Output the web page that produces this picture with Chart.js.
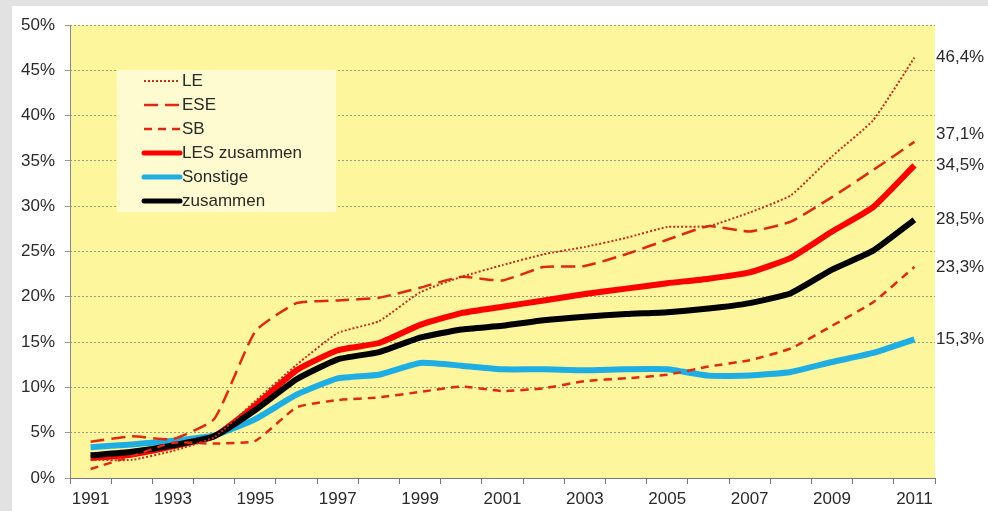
<!DOCTYPE html>
<html>
<head>
<meta charset="utf-8">
<script src="https://cdn.jsdelivr.net/npm/chart.js@4"></script>
<style>
  html, body { margin: 0; padding: 0; background: #e2e2e2; overflow: hidden; }
  #wrap { position: absolute; left: 12px; top: 6px; width: 976px; height: 505px; background: #fff; }
  canvas { position: absolute; left: 0; top: 0; }
</style>
</head>
<body>
<div id="wrap"></div>
<canvas id="chart" width="988" height="511"></canvas>
<script>
const years = ["1991","1992","1993","1994","1995","1996","1997","1998","1999","2000","2001","2002","2003","2004","2005","2006","2007","2008","2009","2010","2011"];
const le = [2.0, 2.0, 3.0, 4.5, 8.5, 12.5, 16.0, 17.3, 20.5, 22.2, 23.5, 24.7, 25.5, 26.5, 27.7, 27.8, 29.3, 31.2, 35.5, 39.5, 46.4];
const ese = [4.0, 4.6, 4.3, 6.5, 16.2, 19.3, 19.6, 19.9, 21.0, 22.2, 21.8, 23.3, 23.4, 24.7, 26.3, 27.8, 27.2, 28.3, 31.0, 34.0, 37.1];
const sb = [1.0, 2.4, 3.9, 3.8, 4.1, 7.8, 8.6, 8.9, 9.5, 10.1, 9.6, 9.9, 10.7, 11.0, 11.4, 12.3, 13.0, 14.3, 16.8, 19.4, 23.3];
const les = [2.2, 2.6, 3.5, 4.6, 8.0, 11.9, 14.1, 14.9, 16.9, 18.2, 18.9, 19.6, 20.3, 20.9, 21.5, 22.0, 22.7, 24.3, 27.2, 29.9, 34.5];
const sonstige = [3.4, 3.7, 4.1, 4.7, 6.5, 9.2, 11.0, 11.4, 12.7, 12.4, 12.0, 12.0, 11.9, 12.0, 12.0, 11.3, 11.3, 11.7, 12.8, 13.8, 15.3];
const zusammen = [2.5, 2.9, 3.6, 4.6, 7.5, 10.9, 13.1, 13.9, 15.5, 16.4, 16.8, 17.4, 17.8, 18.1, 18.3, 18.7, 19.3, 20.4, 23.0, 25.1, 28.5];

const fontFam = "'Liberation Sans', Arial, sans-serif";
const textCol = "#2a2a2a";

const bgPlugin = {
    id: "bg",
    beforeDraw(chart) {
        const { ctx, chartArea: a } = chart;
        ctx.save();
        ctx.fillStyle = "#fdf69c";
        ctx.fillRect(a.left, a.top, a.right - a.left, a.bottom - a.top);
        ctx.restore();
    },
    afterDraw(chart) {
        // solid y axis line (grid lines are dotted)
        const { ctx, chartArea: a } = chart;
        ctx.save();
        ctx.strokeStyle = "#888";
        ctx.lineWidth = 1;
        ctx.beginPath();
        ctx.moveTo(a.left + 0.5, a.top);
        ctx.lineTo(a.left + 0.5, a.bottom);
        ctx.stroke();
        ctx.restore();
    }
};

const endLabels = {
    id: "endLabels",
    afterDatasetsDraw(chart) {
        const { ctx, chartArea: a } = chart;
        const y = chart.scales.y;
        ctx.save();
        ctx.font = "17px " + fontFam;
        ctx.fillStyle = textCol;
        ctx.textAlign = "left";
        ctx.textBaseline = "middle";
        chart.data.datasets.forEach(ds => {
            const v = ds.data[ds.data.length - 1];
            const txt = v.toFixed(1).replace(".", ",") + "%";
            ctx.fillText(txt, a.right + 1, y.getPixelForValue(v) + (ds.labelShift || 0));
        });
        ctx.restore();
    }
};

const boxLegend = {
    id: "boxLegend",
    afterDraw(chart) {
        const ctx = chart.ctx;
        const bx = 117, by = 70, bw = 219, bh = 142;
        ctx.save();
        ctx.fillStyle = "#fffbd0";
        ctx.fillRect(bx, by, bw, bh);
        ctx.font = "17px " + fontFam;
        ctx.textBaseline = "middle";
        ctx.fillStyle = textCol;
        const order = ["LE", "ESE", "SB", "LES zusammen", "Sonstige", "zusammen"];
        order.forEach((name, i) => {
            const ds = chart.data.datasets.find(d => d.label === name);
            const ry = by + 11 + i * 24;
            ctx.strokeStyle = ds.borderColor;
            ctx.lineWidth = Math.min(ds.borderWidth, 5);
            ctx.setLineDash(ds.borderDash || []);
            ctx.lineCap = ds.borderDash ? "butt" : "round";
            ctx.beginPath();
            ctx.moveTo(144, ry);
            ctx.lineTo(180, ry);
            ctx.stroke();
            ctx.setLineDash([]);
            ctx.fillText(name, 182, ry);
        });
        ctx.restore();
    }
};

new Chart(document.getElementById("chart"), {
    type: "line",
    data: {
        labels: years,
        datasets: [
            { label: "LE", data: le, borderColor: "#c0301c", borderWidth: 2, borderDash: [2, 2], order: 0 },
            { label: "ESE", data: ese, borderColor: "#dd2a10", borderWidth: 2.5, borderDash: [14, 7], order: 1, labelShift: -8 },
            { label: "SB", data: sb, borderColor: "#dd2a10", borderWidth: 2.5, borderDash: [8, 6], order: 2 },
            { label: "LES zusammen", data: les, borderColor: "#ff0000", borderWidth: 6, order: 4 },
            { label: "Sonstige", data: sonstige, borderColor: "#1eaee4", borderWidth: 6, order: 5 },
            { label: "zusammen", data: zusammen, borderColor: "#000000", borderWidth: 6, order: 3 }
        ]
    },
    options: {
        responsive: false,
        animation: false,
        devicePixelRatio: 1,
        layout: { padding: { top: 25, right: 53, left: 0, bottom: 0 } },
        elements: {
            point: { radius: 0 },
            line: { tension: 0.15, borderCapStyle: "butt", borderJoinStyle: "round" }
        },
        plugins: { legend: { display: false }, tooltip: { enabled: false } },
        scales: {
            x: {
                offset: true,
                afterFit: s => { s.height = 33; },
                border: { color: "#777", width: 1 },
                grid: { offset: true, drawOnChartArea: false, drawTicks: true, tickLength: 6, color: "#777" },
                ticks: {
                    autoSkip: false,
                    maxRotation: 0,
                    padding: 5,
                    color: textCol,
                    font: { family: fontFam, size: 17 },
                    callback: (v, i) => i % 2 === 0 ? years[i] : ""
                }
            },
            y: {
                min: 0,
                max: 50,
                afterFit: s => { s.width = 70; },
                border: { display: false, dash: [2, 2] },
                grid: { color: "#9d9a80", tickLength: 5 },
                ticks: {
                    stepSize: 5,
                    padding: 10,
                    color: textCol,
                    font: { family: fontFam, size: 17 },
                    callback: v => v + "%"
                }
            }
        }
    },
    plugins: [bgPlugin, endLabels, boxLegend]
});
</script>
</body>
</html>
